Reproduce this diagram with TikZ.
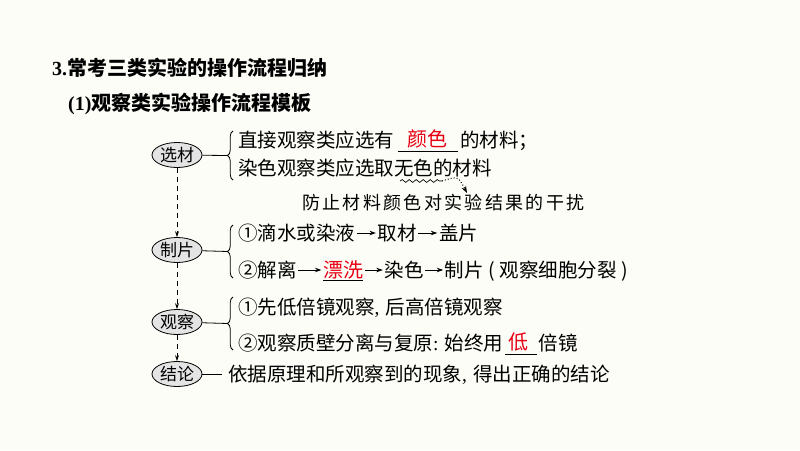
\documentclass[tikz,border=0pt]{standalone}
\usepackage{fontspec}
\setmainfont{Liberation Serif}
\newfontfamily\cjk{Noto Sans CJK SC}
\usetikzlibrary{arrows.meta,decorations.pathreplacing,decorations.pathmorphing,positioning,calc,shapes.geometric}
\definecolor{bg}{HTML}{FDFDF7}
\definecolor{ansred}{HTML}{E60012}
\definecolor{ellfill}{HTML}{E4E4E4}
\newcommand{\cmm}{{\rmfamily,}\hspace{6pt}}
\newcommand{\cln}{{\rmfamily:}\hspace{6pt}}
\begin{document}
\begin{tikzpicture}[x=1pt,y=-1pt,
  txt/.style={font=\cjk\fontsize{19.5}{20}\selectfont, inner sep=0pt, anchor=west, text height=17.2pt, text depth=2.3pt},
  ans/.style={txt, text=ansred, font=\cjk\fontsize{20}{20}\selectfont},
  notetxt/.style={font=\cjk\addfontfeatures{LetterSpace=13}\fontsize{18}{18}\selectfont, inner sep=0pt, anchor=west, text height=15.8pt, text depth=2.2pt},
  stage/.style={ellipse, draw, fill=ellfill, line width=0.8pt, minimum width=50pt, minimum height=25pt, inner sep=0pt, font=\cjk\fontsize{17}{17}\selectfont},
  flow/.style={dash pattern=on 5pt off 4pt, -{Stealth[length=6pt,width=4pt]}, line width=0.7pt},
  ra/.style={-{Stealth[length=6.5pt,width=4.5pt]}, line width=0.8pt, shorten <=1.5pt, shorten >=1.5pt},
  brc/.style={decorate, decoration={brace, amplitude=5.5pt}, line width=0.8pt},
  link/.style={line width=0.8pt},
  blank/.style={line width=0.6pt},
]
\fill[bg] (0,0) rectangle (800,450);
\useasboundingbox (0,0) rectangle (800,450);

% titles
\node[anchor=base west, inner sep=0pt] (t1) at (52,75.5)
  {\bfseries\fontsize{20}{20}\selectfont 3.{\cjk\bfseries 常考三类实验的操作流程归纳}};
\node[anchor=base west, inner sep=0pt] (t2) at (68,110.5)
  {\bfseries\fontsize{20}{20}\selectfont (1){\cjk\bfseries 观察类实验操作流程模板}};

% stages
\node[stage] (s1) at (177,155) {选材};
\node[stage] (s2) at (177,250) {制片};
\node[stage] (s3) at (177,322) {观察};
\node[stage] (s4) at (177,374) {结论};
\draw[flow] (s1) -- (s2);
\draw[flow] (s2) -- (s3);
\draw[flow] (s3) -- (s4);

% braces
\draw[brc] (233,180) -- (233,131);
\coordinate (b1) at (227.5,155.5);
\draw[brc] (233,278) -- (233,225);
\coordinate (b2) at (227.5,251.5);
\draw[brc] (233,350) -- (233,297);
\coordinate (b3) at (227.5,323.5);
\draw[link] (s1) -- (b1);
\draw[link] (s2) -- (b2);
\draw[link] (s3) -- (b3);

% 选材
\node[txt] (l1a) at (238,140) {直接观察类应选有};
\coordinate (u1s) at (398,151);
\coordinate (u1e) at (458,151);
\draw[blank] (u1s) -- (u1e);
\node[ans] (l1r) at (407,139) {颜色};
\node[txt] (l1b) at (460,140) {的材料；};
\node[txt] (l2) at (238,168) {染色观察类应选取无色的材料};
\coordinate (w1) at (400,181);
\coordinate (w2) at (442,181);
\draw[decorate, decoration={snake, amplitude=1.4pt, segment length=7pt}, line width=0.7pt] (w1) -- (w2);
\coordinate (n1) at (467,193);
\draw[dotted, line width=1pt, -{Stealth[length=7pt,width=5pt]}] (w2) .. controls (458,176) .. (n1);
\node[notetxt] (ann) at (302,203) {防止材料颜色对实验结果的干扰};

% 制片
\node[txt] (l3a) at (238,233) {①滴水或染液};
\node[txt, right=22pt of l3a] (l3b) {取材};
\node[txt, right=22pt of l3b] (l3c) {盖片};
\draw[ra] (l3a) -- (l3b);
\draw[ra] (l3b) -- (l3c);

\node[txt] (l4a) at (238,270) {②解离};
\node[ans, right=26pt of l4a] (l4b) {漂洗};
\node[txt, right=21pt of l4b] (l4c) {染色};
\node[txt, right=21pt of l4c] (l4d) {制片};
\node[txt, right=4pt of l4d] (l4e) {(\hspace{5pt}观察细胞分裂\hspace{5pt})};
\draw[ra] (l4a) -- (l4b);
\draw[ra] (l4b) -- (l4c);
\draw[ra] (l4c) -- (l4d);
\draw[blank] ($(l4b.south west)+(0,0.5)$) -- ($(l4b.south east)+(0,0.5)$);

% 观察
\node[txt] (l5) at (238,307) {①先低倍镜观察\cmm 后高倍镜观察};
\node[txt] (l6a) at (238,343) {②观察质壁分离与复原\cln 始终用};
\coordinate (u6s) at ($(l6a.east)+(2,11)$);
\coordinate (u6e) at ($(u6s)+(32,0)$);
\draw[blank] (u6s) -- (u6e);
\node[ans] (l6r) at ($(u6s)+(3,-12)$) {低};
\node[txt] (l6b) at ($(u6e)+(1,-11)$) {倍镜};

% 结论
\node[txt] (l7) at (228,374) {依据原理和所观察到的现象\cmm 得出正确的结论};
\draw[link, shorten >=6pt] (s4) -- (l7);
\end{tikzpicture}
\end{document}
